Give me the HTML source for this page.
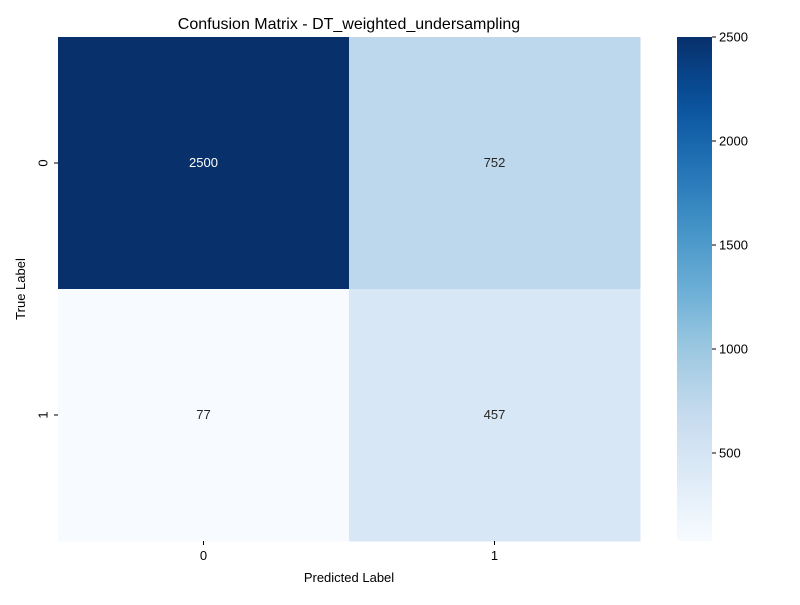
<!DOCTYPE html>
<html><head><meta charset="utf-8">
<style>body{margin:0;background:#fff;font-family:"Liberation Sans","DejaVu Sans",sans-serif}</style>
</head><body>
<svg id="chart" width="800" height="600" xmlns="http://www.w3.org/2000/svg">
<defs><linearGradient id="cbar" x1="0" y1="1" x2="0" y2="0"></linearGradient></defs>
<text x="349" y="29" font-size="16" text-anchor="middle" fill="#000">Confusion Matrix - DT_weighted_undersampling</text>
<g id="cells"></g><g id="xt"></g><g id="yt"></g><g id="cb"></g>
<text x="349" y="582" font-size="13" text-anchor="middle">Predicted Label</text>
<text x="25" y="289" font-size="13" text-anchor="middle" transform="rotate(-90 25 289)">True Label</text>
</svg>
<script>
const xCategories = ["0","1"];
const yCategories = ["0","1"];
const values = [[2500,752],[77,457]];
const cbTicks = [500,1000,1500,2000,2500];
const NS="http://www.w3.org/2000/svg";
const stops=["#f7fbff","#deebf7","#c6dbef","#9ecae1","#6baed6","#4292c6","#2171b5","#08519c","#08306b"];
function hex(c){return [1,3,5].map(i=>parseInt(c.substr(i,2),16));}
function blues(t){t=Math.max(0,Math.min(1,t));const p=t*(stops.length-1);const i=Math.min(Math.floor(p),stops.length-2);const f=p-i;const a=hex(stops[i]),b=hex(stops[i+1]);return "rgb("+a.map((v,k)=>Math.round(v+(b[k]-v)*f)).join(",")+")";}
const flat=values.flat();const vmin=Math.min(...flat),vmax=Math.max(...flat);
const L=58,R=640,T=37,B=541;
const cw=(R-L)/xCategories.length, ch=(B-T)/yCategories.length;
const xs=i=>L+i*cw, ys=j=>T+j*ch;
function mk(tag,attrs,parent){const e=document.createElementNS(NS,tag);for(const k in attrs)e.setAttribute(k,attrs[k]);parent.appendChild(e);return e;}
const cells=document.getElementById("cells");
values.forEach((row,j)=>row.forEach((v,i)=>{
  const t=(v-vmin)/(vmax-vmin);
  const r=mk("rect",{x:xs(i),y:ys(j),width:cw+0.5,height:ch+0.5,fill:blues(t)},cells);
  
  
  const tx=mk("text",{x:xs(i)+cw/2,y:ys(j)+ch/2+4,"font-size":13,"text-anchor":"middle",fill:t>0.5?"#fff":"#262626"},cells);
  tx.textContent=v;
  
  
}));
const xt=document.getElementById("xt");
xCategories.forEach((c,i)=>{const x=xs(i)+cw/2;
  const l=mk("line",{x1:x,x2:x,y1:B,y2:B+4,stroke:"#000"},xt);
  
  const t=mk("text",{x:x,y:B+19,"font-size":13,"text-anchor":"middle"},xt);t.textContent=c;
  });
const yt=document.getElementById("yt");
yCategories.forEach((c,j)=>{const y=ys(j)+ch/2;
  const l=mk("line",{x1:L-4,x2:L,y1:y,y2:y,stroke:"#000"},yt);
  
  const t=mk("text",{x:L-14,y:y,"font-size":13,"text-anchor":"middle",transform:`rotate(-90 ${L-14} ${y})`,"dominant-baseline":"middle"},yt);t.textContent=c;
  });
const g=document.getElementById("cbar");
for(let k=0;k<=20;k++){mk("stop",{offset:k/20,"stop-color":blues(k/20)},g);}
const cb=document.getElementById("cb");const CX=677,CW=35;
const cr=mk("rect",{x:CX,y:T,width:CW,height:B-T,fill:"url(#cbar)"},cb);

const cy=v=>B-(v-vmin)/(vmax-vmin)*(B-T);
cbTicks.forEach(v=>{const y=cy(v);
  const l=mk("line",{x1:CX+CW,x2:CX+CW+4,y1:y,y2:y,stroke:"#000"},cb);
  
  const t=mk("text",{x:CX+CW+7,y:y+4.5,"font-size":13},cb);t.textContent=v;
  });
</script>
</body></html>
